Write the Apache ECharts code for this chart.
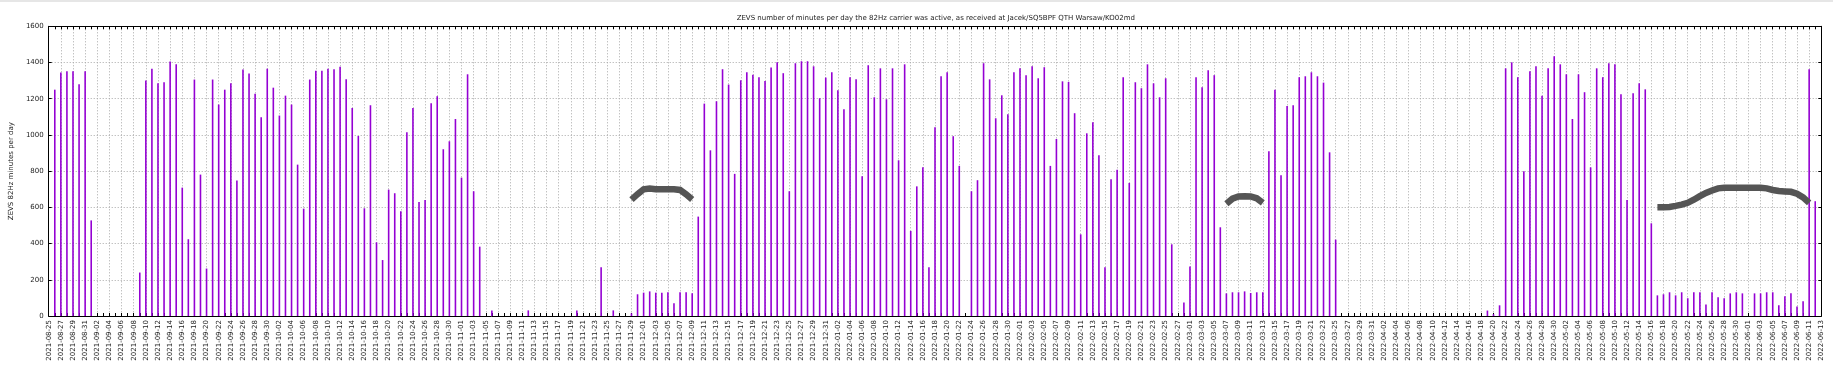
<!DOCTYPE html>
<html>
<head>
<meta charset="utf-8">
<script src="https://cdn.jsdelivr.net/npm/echarts@6/dist/echarts.min.js"></script>
<style>
html,body{margin:0;padding:0;background:#fff;}
#top{position:absolute;left:0;top:0;width:1833px;height:2px;background:#e6e6e6;}
#c{width:1833px;height:368px;}
</style>
</head>
<body>
<div id="c"></div>
<div id="top"></div>
<script>
// ---- data (daily minutes, 2021-08-25 .. 2022-06-13) ----
const startDate = '2021-08-25';
const dayCount = 293;
const aug21 = [0, 1250, 1345, 1352, 1352, 1280, 1352];
const sep21 = [528, 0, 0, 0, 0, 0, 0, 0, 240, 1300, 1366, 1285, 1291, 1405, 1390, 709, 424, 1306, 781, 262, 1306, 1168, 1250, 1285, 748, 1361, 1339, 1228, 1098, 1366];
const oct21 = [1261, 1107, 1217, 1168, 836, 593, 1306, 1355, 1355, 1365, 1363, 1377, 1307, 1149, 994, 595, 1164, 407, 309, 698, 678, 578, 1015, 1149, 630, 641, 1175, 1214, 921, 965, 1088];
const nov21 = [764, 1335, 689, 383, 0, 31, 0, 0, 0, 0, 0, 31, 0, 0, 0, 0, 0, 0, 0, 31, 0, 0, 0, 269, 0, 31, 0, 0, 15, 120];
const dec21 = [129, 136, 129, 129, 131, 70, 131, 131, 125, 549, 1173, 915, 1186, 1363, 1278, 785, 1302, 1346, 1333, 1319, 1298, 1372, 1401, 1341, 689, 1396, 1407, 1407, 1379, 1203, 1317];
const jan22 = [1346, 1247, 1142, 1319, 1307, 772, 1385, 1208, 1368, 1197, 1368, 860, 1390, 470, 716, 821, 269, 1042, 1324, 1346, 993, 829, 0, 689, 750, 1396, 1307, 1092, 1219, 1114, 1346];
const feb22 = [1368, 1330, 1379, 1313, 1374, 829, 978, 1296, 1293, 1120, 451, 1009, 1070, 888, 269, 755, 808, 1319, 735, 1291, 1258, 1390, 1285, 1208, 1313, 396, 0, 75];
const mar22 = [274, 1319, 1263, 1357, 1330, 490, 125, 131, 131, 136, 127, 131, 131, 910, 1249, 777, 1160, 1164, 1319, 1324, 1346, 1324, 1289, 904, 422, 0, 0, 0, 0, 0, 0];
const apr22 = [0, 0, 0, 0, 0, 0, 0, 0, 0, 0, 0, 0, 0, 0, 0, 0, 0, 0, 30, 10, 59, 1368, 1401, 1319, 799, 1352, 1379, 1217, 1368, 1435];
const may22 = [1390, 1335, 1088, 1335, 1236, 821, 1368, 1319, 1396, 1390, 1225, 641, 1230, 1285, 1252, 512, 114, 120, 131, 114, 131, 98, 131, 131, 64, 131, 103, 98, 125, 131, 125];
const jun22 = [0, 125, 125, 131, 131, 59, 109, 125, 53, 81, 1363, 634, 0];

// grey marker curves (start date + daily values)
const markA = {start: '2021-11-29', values: [643, 673, 700, 704, 700, 700, 700, 700, 696, 672, 644]};
const markB = {start: '2022-03-07', values: [620, 648, 660, 662, 660, 650, 625]};
const markC = {start: '2022-05-17', values: [600, 600, 602, 608, 615, 625, 642, 662, 680, 693, 705, 708, 708, 708, 708, 708, 708, 708, 705, 696, 690, 688, 686, 675, 655, 625]};

const yMin = 0, yMax = 1600, yStep = 200;
const titleText = 'ZEVS number of minutes per day the 82Hz carrier was active, as received at Jacek/SQ5BPF QTH Warsaw/KO02md';
const yName = 'ZEVS 82Hz minutes per day';

// ---- build ----
function pad(n){return n < 10 ? '0' + n : '' + n;}
const categories = [];
{
  const d0 = new Date(startDate + 'T00:00:00Z');
  for (let i = 0; i < dayCount; i++) {
    const d = new Date(d0.getTime() + i * 86400000);
    categories.push(d.getUTCFullYear() + '-' + pad(d.getUTCMonth() + 1) + '-' + pad(d.getUTCDate()));
  }
}
const minutes = [].concat(aug21, sep21, oct21, nov21, dec21, jan22, feb22, mar22, apr22, may22, jun22);
const markLine = categories.map(() => null);
[markA, markB, markC].forEach(m => {
  const s = categories.indexOf(m.start);
  m.values.forEach((v, i) => { markLine[s + i] = v; });
});

const FONT = 'DejaVu Sans';
const gridColor = '#a8a8a8';
const chart = echarts.init(document.getElementById('c'), null, {renderer: 'canvas'});
chart.setOption({
  animation: false,
  backgroundColor: '#fff',
  title: {
    text: titleText, left: 930.8, top: 10, textAlign: 'center',
    textStyle: {fontFamily: FONT, fontSize: 7, fontWeight: 'normal', color: '#222'}
  },
  grid: {left: 40.3, right: 11.7, top: 26.3, bottom: 52, containLabel: false},
  xAxis: [{
    type: 'category', data: categories, boundaryGap: false, position: 'bottom',
    axisLine: {show: true, onZero: false, lineStyle: {color: '#000', width: 1}},
    axisTick: {show: true, inside: true, interval: 0, length: 3, lineStyle: {color: '#000'}},
    axisLabel: {interval: 1, rotate: 90, margin: 4, fontFamily: FONT, fontSize: 7, color: '#222'},
    splitLine: {show: true, interval: 1, lineStyle: {color: gridColor, type: [1, 2], width: 1}}
  }, {
    type: 'category', data: categories, boundaryGap: false, position: 'top',
    axisLine: {show: true, onZero: false, lineStyle: {color: '#000', width: 1}},
    axisTick: {show: true, inside: true, interval: 0, length: 3, lineStyle: {color: '#000'}},
    axisLabel: {show: false}, splitLine: {show: false}
  }],
  yAxis: [{
    type: 'value', min: yMin, max: yMax, interval: yStep, position: 'left',
    name: yName, nameLocation: 'middle', nameGap: 29, nameRotate: 90,
    nameTextStyle: {fontFamily: FONT, fontSize: 7, color: '#222'},
    axisLine: {show: true, lineStyle: {color: '#000', width: 1}},
    axisTick: {show: true, inside: true, length: 3, lineStyle: {color: '#000'}},
    axisLabel: {margin: 5, fontFamily: FONT, fontSize: 7, color: '#222', formatter: v => String(v)},
    splitLine: {show: true, lineStyle: {color: gridColor, type: [1, 2], width: 1}}
  }, {
    type: 'value', min: yMin, max: yMax, interval: yStep, position: 'right',
    axisLine: {show: true, lineStyle: {color: '#000', width: 1}},
    axisTick: {show: true, inside: true, length: 3, lineStyle: {color: '#000'}},
    axisLabel: {show: false}, splitLine: {show: false}
  }],
  series: [{
    type: 'bar', data: minutes, xAxisIndex: 0, yAxisIndex: 0,
    barWidth: 1.6, itemStyle: {color: '#9400d3'}, silent: true
  }, {
    type: 'line', data: markLine, xAxisIndex: 0, yAxisIndex: 0,
    showSymbol: false, symbol: 'none', connectNulls: false, silent: true,
    lineStyle: {color: '#555555', width: 6.5, cap: 'butt', join: 'miter'}
  }]
});
</script>
</body>
</html>
